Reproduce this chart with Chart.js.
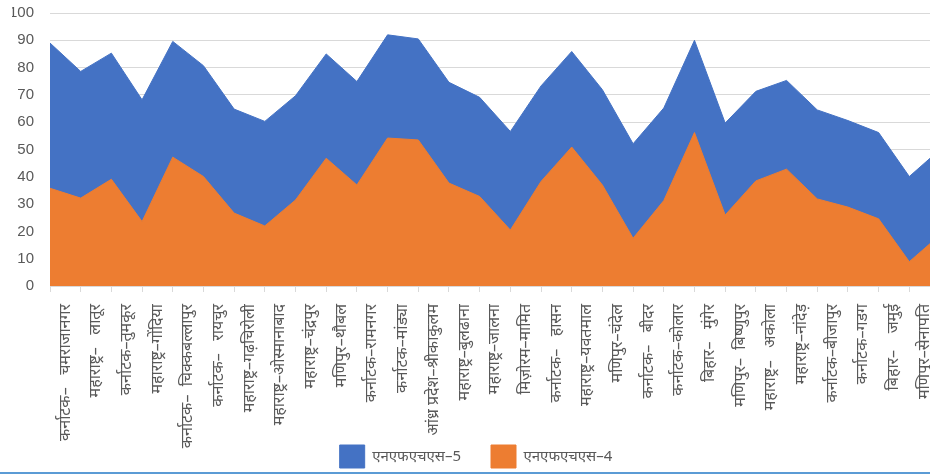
<!DOCTYPE html>
<html>
<head>
<meta charset="utf-8">
<script src="https://cdn.jsdelivr.net/npm/chart.js@4/dist/chart.umd.min.js"></script>
<style>
  html, body { margin: 0; padding: 0; background: #fff; overflow: hidden; }
  #wrap { position: absolute; left: 0; top: 0; width: 950px; height: 482px; }
  #line { position: absolute; left: 0; top: 472px; width: 930px; height: 2px; background: #5b9bd5; }
</style>
</head>
<body>
<div id="wrap"><canvas id="chart"></canvas></div>
<div id="line"></div>
<script>
// districts (last one is cut off at the right edge of the picture)
const districts = [
    'कर्नाटक–   चमराजानगर', 'महाराष्ट्र–   लातूर', 'कर्नाटक–तुमकूर', 'महाराष्ट्र–गोंदिया',
    'कर्नाटक–  चिक्कबल्लापुर', 'कर्नाटक–   रायचुर', 'महाराष्ट्र–गढ़चिरोली', 'महाराष्ट्र–ओस्मानाबाद',
    'महाराष्ट्र–चंद्रपुर', 'मणिपुर–थौबल', 'कर्नाटक–रामनगर', 'कर्नाटक–मांड्या',
    'आंध्र प्रदेश–श्रीकाकुलम', 'महाराष्ट्र–बुलढाना', 'महाराष्ट्र–जालना', 'मिज़ोरम–मामित',
    'कर्नाटक–   हासन', 'महाराष्ट्र–यवतमाल', 'मणिपुर–चंदेल', 'कर्नाटक–   बीदर',
    'कर्नाटक–कोलार', 'बिहार–   मुंगेर', 'मणिपुर–  बिष्णुपुर', 'महाराष्ट्र–   अकोला',
    'महाराष्ट्र–नांदेड़', 'कर्नाटक–बीजापुर', 'कर्नाटक–गडग', 'बिहार–    जमुई',
    'मणिपुर–सेनापति', ''
];

const nfhs5 = [89, 78.6, 85.3, 68.2, 89.6, 80.7, 64.8, 60.3, 69.7, 85,
               74.9, 92, 90.5, 74.6, 69.1, 56.6, 73.3, 85.9, 71.9, 52.1,
               65.2, 90, 59.7, 71.3, 75.3, 64.5, 60.6, 56.2, 40.1, 50];
const nfhs4 = [35.8, 32.2, 39.1, 23.6, 47.2, 40.1, 26.7, 22, 31.5, 46.8,
               37, 54.2, 53.5, 37.7, 32.8, 20.5, 38.3, 50.9, 37, 17.5,
               31.3, 56.2, 26, 38.5, 42.8, 31.9, 28.9, 24.6, 8.9, 18.7];

const yTicks = [0, 10, 20, 30, 40, 50, 60, 70, 80, 90, 100];

const textColor = '#595959';
const gridColor = '#d9d9d9';

// let the rotated labels run below the x axis box into the legend band
const unclipLabels = {
    id: 'unclipLabels',
    afterLayout: function(chart) {
        chart.scales.x.bottom = chart.height;
    }
};

document.addEventListener('DOMContentLoaded', function() {
    const ctx = document.getElementById('chart').getContext('2d');
    new Chart(ctx, {
        type: 'line',
        data: {
            labels: districts,
            datasets: [{
                // drawn on top
                label: 'एनएफएचएस–4',
                data: nfhs4,
                backgroundColor: '#ed7d31',
                borderColor: '#ed7d31',
                borderWidth: 1,
                fill: 'origin',
                pointRadius: 0,
                tension: 0
            }, {
                label: 'एनएफएचएस–5',
                data: nfhs5,
                backgroundColor: '#4472c4',
                borderColor: '#4472c4',
                borderWidth: 1,
                fill: 'origin',
                pointRadius: 0,
                tension: 0
            }]
        },
        plugins: [unclipLabels],
        options: {
            responsive: true,
            maintainAspectRatio: false,
            animation: false,
            layout: { padding: { left: 12, right: 10, top: 13, bottom: 4 } },
            plugins: {
                tooltip: { enabled: false },
                legend: {
                    position: 'bottom',
                    labels: {
                        sort: (a, b) => b.datasetIndex - a.datasetIndex,
                        boxWidth: 25,
                        boxHeight: 23,
                        padding: 30,
                        color: textColor,
                        font: { family: "'Noto Sans', 'Liberation Sans', sans-serif", size: 15 }
                    }
                }
            },
            scales: {
                x: {
                    afterFit: function(scale) {
                        scale.height = 129;
                        scale.paddingLeft = 0;
                        scale.paddingRight = 0;
                    },
                    grid: {
                        drawOnChartArea: false,
                        drawTicks: true,
                        tickLength: 6,
                        color: gridColor
                    },
                    border: { display: true, color: gridColor },
                    ticks: {
                        autoSkip: false,
                        maxRotation: 90,
                        minRotation: 90,
                        labelOffset: 15,
                        padding: 12,
                        color: textColor,
                        font: { family: "'Noto Sans', 'Liberation Sans', sans-serif", size: 16 }
                    }
                },
                y: {
                    min: 0,
                    max: 100,
                    afterFit: function(scale) {
                        scale.width = 38;
                        scale.paddingTop = 0;
                        scale.paddingBottom = 0;
                    },
                    afterBuildTicks: function(scale) {
                        scale.ticks = yTicks.map(v => ({ value: v }));
                    },
                    grid: { color: gridColor, drawTicks: false },
                    border: { display: false },
                    ticks: {
                        padding: 16,
                        color: textColor,
                        font: { family: "'Liberation Sans', sans-serif", size: 15 }
                    }
                }
            }
        }
    });
});
</script>
</body>
</html>
